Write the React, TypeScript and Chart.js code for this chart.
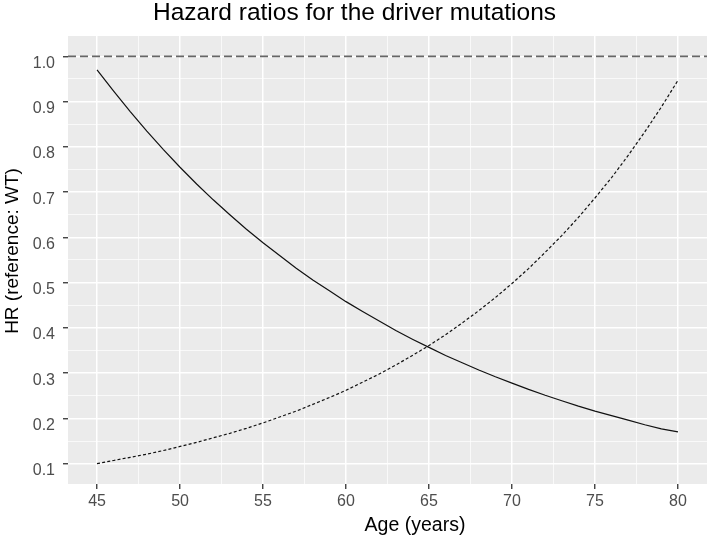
import React, { useEffect, useRef } from "react";
import { Chart, registerables } from "chart.js";

Chart.register(...registerables);

// ---- data ----
const AGES = [45, 46, 47, 48, 49, 50, 51, 52, 53, 54, 55, 56, 57, 58, 59, 60, 61, 62, 63, 64, 65, 66, 67, 68, 69, 70, 71, 72, 73, 74, 75, 76, 77, 78, 79, 80];
const HR_SOLID = [0.97, 0.923, 0.878, 0.835, 0.794, 0.755, 0.718, 0.683, 0.65, 0.618, 0.588, 0.56, 0.532, 0.506, 0.482, 0.458, 0.436, 0.415, 0.394, 0.375, 0.357, 0.339, 0.323, 0.307, 0.292, 0.278, 0.264, 0.251, 0.239, 0.227, 0.216, 0.206, 0.196, 0.186, 0.177, 0.17];
const HR_DOTTED = [0.1, 0.107, 0.114, 0.121, 0.129, 0.138, 0.147, 0.157, 0.167, 0.178, 0.19, 0.203, 0.216, 0.231, 0.246, 0.262, 0.28, 0.298, 0.318, 0.339, 0.361, 0.385, 0.411, 0.438, 0.467, 0.498, 0.531, 0.567, 0.604, 0.644, 0.687, 0.732, 0.781, 0.833, 0.888, 0.947];
const REF_HR = 1.0;

const X_MAJOR = [45, 50, 55, 60, 65, 70, 75, 80];
const X_MINOR = [47.5, 52.5, 57.5, 62.5, 67.5, 72.5, 77.5];
const Y_MAJOR = [0.1, 0.2, 0.3, 0.4, 0.5, 0.6, 0.7, 0.8, 0.9, 1.0];
const Y_MINOR = [0.15, 0.25, 0.35, 0.45, 0.55, 0.65, 0.75, 0.85, 0.95];

const TITLE = "Hazard ratios for the driver mutations";
const X_TITLE = "Age (years)";
const Y_TITLE = "HR (reference: WT)";

const FONT = '"Liberation Sans", Arial, Helvetica, sans-serif';

const isIn = (arr: number[], v: number) => arr.some((a) => Math.abs(a - v) < 1e-6);

export default function App() {
  const ref = useRef<HTMLCanvasElement | null>(null);

  useEffect(() => {
    if (!ref.current) return;

    const panelPlugin = {
      id: "panelBg",
      beforeDraw(chart: any) {
        const { ctx, chartArea: a } = chart;
        ctx.save();
        ctx.fillStyle = "#EBEBEB";
        ctx.fillRect(a.left, a.top, a.right - a.left, a.bottom - a.top);
        ctx.restore();
      },
    };

    const refLinePlugin = {
      id: "refLine",
      afterDatasetsDraw(chart: any) {
        const { ctx, chartArea: a, scales } = chart;
        const y = scales.y.getPixelForValue(REF_HR);
        ctx.save();
        ctx.strokeStyle = "#666666";
        ctx.lineWidth = 1.6;
        ctx.setLineDash([8, 4]);
        ctx.beginPath();
        ctx.moveTo(a.left, y);
        ctx.lineTo(a.right, y);
        ctx.stroke();
        ctx.restore();
      },
    };

    const textPlugin = {
      id: "texts",
      afterDraw(chart: any) {
        const { ctx } = chart;
        ctx.save();
        ctx.fillStyle = "#000000";
        ctx.textBaseline = "alphabetic";
        ctx.textAlign = "center";
        ctx.font = `24.5px ${FONT}`;
        ctx.fillText(TITLE, 354.5, 20);
        ctx.font = `19.5px ${FONT}`;
        ctx.fillText(X_TITLE, 415, 531);
        ctx.translate(18, 251);
        ctx.rotate(-Math.PI / 2);
        ctx.font = `19px ${FONT}`;
        ctx.fillText(Y_TITLE, 0, 0);
        ctx.restore();
      },
    };

    const chart = new Chart(ref.current, {
      type: "line",
      data: {
        datasets: [
          {
            label: "solid",
            data: AGES.map((a, i) => ({ x: a, y: HR_SOLID[i] })),
            borderColor: "#111111",
            borderWidth: 1.2,
            pointRadius: 0,
            tension: 0,
            fill: false,
          },
          {
            label: "dotted",
            data: AGES.map((a, i) => ({ x: a, y: HR_DOTTED[i] })),
            borderColor: "#111111",
            borderWidth: 1.2,
            borderDash: [3, 2.2],
            pointRadius: 0,
            tension: 0,
            fill: false,
          },
        ],
      },
      options: {
        animation: false,
        responsive: false,
        devicePixelRatio: 1,
        layout: { padding: { top: 36, right: 2, left: 0, bottom: 0 } },
        plugins: {
          legend: { display: false },
          tooltip: { enabled: false },
          title: { display: false },
        },
        scales: {
          x: {
            type: "linear",
            min: 43.25,
            max: 81.75,
            afterBuildTicks(scale: any) {
              scale.ticks = [...X_MAJOR, ...X_MINOR].sort((a, b) => a - b).map((v) => ({ value: v }));
            },
            afterFit(scale: any) {
              scale.height = 52;
            },
            border: { display: false },
            grid: {
              color: "#FFFFFF",
              lineWidth: (c: any) => (isIn(X_MAJOR, c.tick.value) ? 1.5 : 0.7),
              tickColor: (c: any) => (isIn(X_MAJOR, c.tick.value) ? "#333333" : "rgba(0,0,0,0)"),
              tickWidth: 1.3,
              tickLength: 5,
              drawTicks: true,
            },
            ticks: {
              autoSkip: false,
              maxRotation: 0,
              padding: 3,
              color: "#4D4D4D",
              font: { family: FONT, size: 16 },
              callback: (v: any) => (isIn(X_MAJOR, Number(v)) ? String(v) : ""),
            },
          },
          y: {
            type: "linear",
            min: 0.055,
            max: 1.045,
            afterBuildTicks(scale: any) {
              scale.ticks = [...Y_MAJOR, ...Y_MINOR].sort((a, b) => a - b).map((v) => ({ value: v }));
            },
            afterFit(scale: any) {
              scale.width = 68;
            },
            border: { display: false },
            grid: {
              color: "#FFFFFF",
              lineWidth: (c: any) => (isIn(Y_MAJOR, c.tick.value) ? 1.5 : 0.7),
              tickColor: (c: any) => (isIn(Y_MAJOR, c.tick.value) ? "#333333" : "rgba(0,0,0,0)"),
              tickWidth: 1.3,
              tickLength: 5,
              drawTicks: true,
            },
            ticks: {
              autoSkip: false,
              padding: 8,
              labelOffset: 7,
              color: "#4D4D4D",
              font: { family: FONT, size: 16 },
              callback: (v: any) => (isIn(Y_MAJOR, Number(v)) ? Number(v).toFixed(1) : ""),
            },
          },
        },
      } as any,
      plugins: [panelPlugin, refLinePlugin, textPlugin],
    });

    return () => chart.destroy();
  }, []);

  return (
    <div style={{ position: "fixed", left: 0, top: 0, width: 709, height: 536, background: "#FFFFFF" }}>
      <canvas ref={ref} width={709} height={536} style={{ display: "block", width: 709, height: 536 }} />
    </div>
  );
}
